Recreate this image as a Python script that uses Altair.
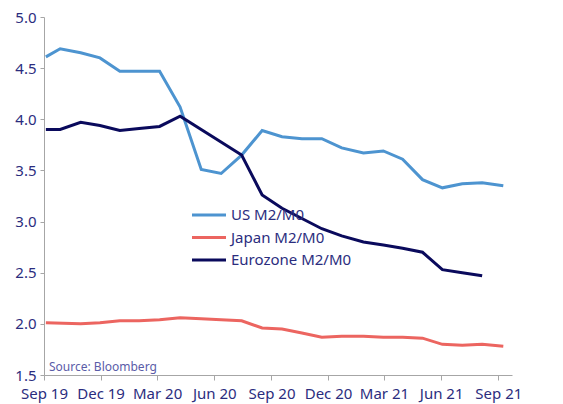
import altair as alt
import pandas as pd

us_dates = ["2019-09-04", "2019-09-27", "2019-10-30", "2019-11-30", "2020-01-01",
            "2020-03-05", "2020-04-07", "2020-05-11", "2020-06-12", "2020-07-15",
            "2020-08-17", "2020-09-18", "2020-10-20", "2020-11-21", "2020-12-23",
            "2021-01-27", "2021-02-28", "2021-03-31", "2021-05-02", "2021-06-03",
            "2021-07-05", "2021-08-06", "2021-09-09"]
us_vals = [4.61, 4.69, 4.65, 4.60, 4.47, 4.47, 4.12, 3.51, 3.47, 3.65, 3.89, 3.83,
           3.81, 3.81, 3.72, 3.67, 3.69, 3.61, 3.41, 3.33, 3.37, 3.38, 3.35]

jp_dates = ["2019-09-04", "2019-10-30", "2019-11-30", "2020-01-01", "2020-02-01",
            "2020-03-05", "2020-04-07", "2020-05-11", "2020-06-12", "2020-07-15",
            "2020-08-17", "2020-09-18", "2020-10-20", "2020-11-21", "2020-12-23",
            "2021-01-27", "2021-02-28", "2021-03-31", "2021-05-02", "2021-06-03",
            "2021-07-05", "2021-08-06", "2021-09-09"]
jp_vals = [2.01, 2.00, 2.01, 2.03, 2.03, 2.04, 2.06, 2.05, 2.04, 2.03, 1.96, 1.95,
           1.91, 1.87, 1.88, 1.88, 1.87, 1.87, 1.86, 1.80, 1.79, 1.80, 1.78]

ez_dates = ["2019-09-04", "2019-09-27", "2019-10-30", "2019-11-30", "2020-01-01",
            "2020-02-01", "2020-03-05", "2020-04-07", "2020-07-15", "2020-08-17",
            "2020-09-18", "2020-10-20", "2020-11-21", "2020-12-23", "2021-01-27",
            "2021-02-28", "2021-03-31", "2021-05-02", "2021-06-03", "2021-07-05",
            "2021-08-06"]
ez_vals = [3.90, 3.90, 3.97, 3.94, 3.89, 3.91, 3.93, 4.03, 3.65, 3.26, 3.13, 3.03,
           2.93, 2.86, 2.80, 2.77, 2.74, 2.70, 2.53, 2.50, 2.47]

series = ["US M2/M0", "Japan M2/M0", "Eurozone M2/M0"]
colors = ["#4d94d0", "#ec6560", "#0a0a5c"]

rows = []
for name, ds, vs, o in [(series[0], us_dates, us_vals, 0),
                        (series[1], jp_dates, jp_vals, 1),
                        (series[2], ez_dates, ez_vals, 2)]:
    for d, v in zip(ds, vs):
        rows.append({"date": d, "value": v, "series": name, "ord": o})
df = pd.DataFrame(rows)

FONT = "Noto Sans"
TXT = "#2b2d7e"
AX = "#a6a6a6"

color_scale = alt.Scale(domain=series, range=colors)

tick_vals = [alt.DateTime(year=y, month=m, date=1, utc=True) for y, m in
             [(2019, 9), (2019, 12), (2020, 3), (2020, 6), (2020, 9),
              (2020, 12), (2021, 3), (2021, 6), (2021, 9)]]

x = alt.X("date:T",
          scale=alt.Scale(type="utc", domain=[alt.DateTime(year=2019, month=9, date=1, utc=True),
                                              alt.DateTime(year=2021, month=9, date=23, utc=True)]),
          axis=alt.Axis(values=tick_vals, format="%b %y", title=None, grid=False,
                        labelOverlap=False, labelFlush=False,
                        domainColor=AX, tickColor=AX, tickSize=5, labelPadding=6,
                        labelFont=FONT, labelFontSize=15, labelColor=TXT))
y = alt.Y("value:Q",
          scale=alt.Scale(domain=[1.5, 5.0], nice=False, zero=False),
          axis=alt.Axis(values=[1.5, 2.0, 2.5, 3.0, 3.5, 4.0, 4.5, 5.0], format=".1f",
                        title=None, grid=False, domainColor=AX, tickColor=AX,
                        labelOverlap=False, labelFlush=False,
                        tickSize=4, labelPadding=4, labelFont=FONT, labelFontSize=15,
                        labelColor=TXT))

lines = alt.Chart(df).mark_line(strokeWidth=3).encode(
    x=x, y=y,
    color=alt.Color("series:N", scale=color_scale, legend=None),
    order=alt.Order("ord:Q"),
    detail="series:N",
)

src_df = pd.DataFrame({"date": ["2019-09-01"], "value": [1.5], "label": ["Source: Bloomberg"]})
source = alt.Chart(src_df).mark_text(align="left", baseline="bottom", dx=5, dy=-1,
                                     font=FONT, fontSize=12, color="#5a5ca8").encode(
    x=alt.X("date:T"), y=alt.Y("value:Q"), text="label:N")

# legend built from the series list
leg_df = pd.DataFrame({"series": series})
leg_y = alt.Y("series:N", scale=alt.Scale(type="point", domain=series, range=[198, 243], padding=0),
              axis=None)
leg_sym = alt.Chart(leg_df).mark_rule(strokeWidth=3).encode(
    y=leg_y, x=alt.value(148), x2=alt.value(182),
    color=alt.Color("series:N", scale=color_scale, legend=None))
leg_txt = alt.Chart(leg_df).mark_text(align="left", baseline="middle", font=FONT,
                                      fontSize=15, color=TXT).encode(
    y=leg_y, x=alt.value(187), text="series:N")
legend = alt.layer(leg_sym, leg_txt)

chart = alt.layer(alt.layer(lines, source), legend).resolve_scale(y="independent").properties(
    width=468, height=358,
    autosize=alt.AutoSizeParams(type="none"),
    padding={"left": 36, "top": 9, "right": 40, "bottom": 30},
).configure_view(stroke=None)

chart.save("out.html", embed_options={"renderer": "svg", "actions": False})
